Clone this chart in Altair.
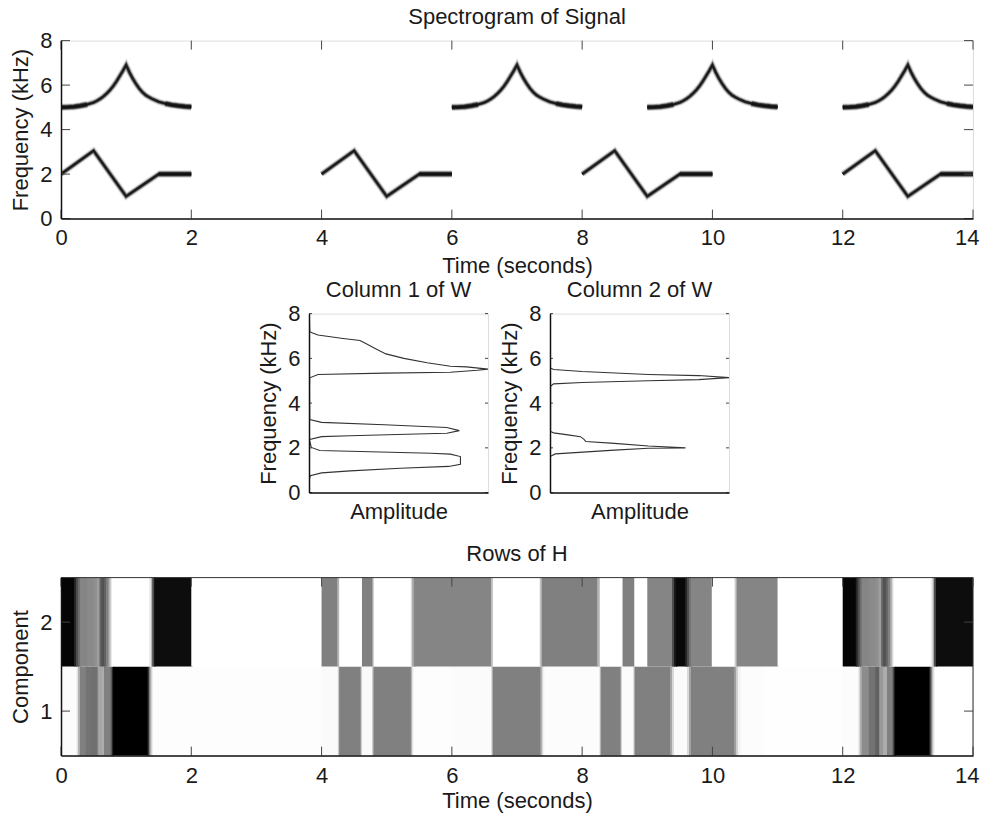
import altair as alt
import pandas as pd

FONT = "Liberation Sans"
INK = "#1a1a1a"
FS = 22

# ---- spectrogram ridges (one read-off note shape, and where each note starts)
upper_t = [0, .1, .2, .3, .4, .5, .55, .6, .65, .7, .75, .8, .85, .9, .95, 1.0, 1.05, 1.1, 1.15, 1.2, 1.25, 1.3, 1.35, 1.4, 1.5, 1.6, 1.7, 1.8, 1.9, 2.0]
upper_f = [5.0, 5.01, 5.03, 5.07, 5.13, 5.22, 5.29, 5.38, 5.49, 5.62, 5.77, 5.95, 6.16, 6.4, 6.64, 6.9, 6.58, 6.3, 6.06, 5.85, 5.68, 5.55, 5.46, 5.38, 5.25, 5.17, 5.11, 5.07, 5.04, 5.02]
lower_t = [0, .5, 1.0, 1.5, 2.0]
lower_f = [2.0, 3.05, 1.0, 2.0, 2.0]
upper_starts = [0, 6, 9, 12]
lower_starts = [0, 4, 8, 12]

# ---- columns of W
w1_amp = [0, .003, .007, .07, .23, .51, .78, .846, .846, .79, .68, .06, .013, .003, .004, .07, .23, .6, .77, .84, .77, .42, .07, .004, .003, .004, .05, .42, .79, .94, 1, .88, .79, .66, .53, .43, .38, .32, .285, .19, .05, .02, .004, .002]
w1_frq = [0, .64, .75, .88, .97, 1.09, 1.17, 1.27, 1.61, 1.72, 1.76, 1.88, 2.02, 2.33, 2.38, 2.5, 2.54, 2.62, 2.65, 2.77, 2.91, 3.03, 3.14, 3.26, 4.68, 5.13, 5.28, 5.34, 5.38, 5.47, 5.52, 5.62, 5.65, 5.8, 6.0, 6.2, 6.4, 6.65, 6.8, 6.89, 7.04, 7.13, 7.19, 8]
w2_amp = [0, 0, .03, .36, .55, .757, .55, .36, .2, .19, .17, .1, .02, .003, .003, .02, .18, .55, .83, 1, .83, .55, .18, .02, .002, .002]
w2_frq = [0, 1.61, 1.73, 1.9, 1.98, 2.0, 2.08, 2.2, 2.28, 2.38, 2.5, 2.58, 2.67, 2.73, 4.75, 4.86, 4.92, 5.0, 5.05, 5.14, 5.23, 5.28, 5.41, 5.5, 5.57, 8]

# ---- rows of H: band edges (seconds) and darkness of the band to the right of each edge
h2_edge = [0, .2, .23, .26, .29, .4, .5, .55, .59, .62, .66, .69, .73, .76, .78, 1.35, 1.38, 1.4, 1.43, 2,
           4, 4.24, 4.27, 4.62, 4.78, 4.8, 5.37, 5.39, 5.42, 6.6, 6.63, 7.35, 7.38, 8.23, 8.27, 8.62, 8.8, 9.0,
           9.38, 9.41, 9.44, 9.58, 9.61, 9.64, 9.67, 9.99, 10.34, 10.37, 11,
           12, 12.2, 12.23, 12.26, 12.29, 12.4, 12.5, 12.55, 12.59, 12.62, 12.66, 12.69, 12.73, 12.76, 12.78, 13.35, 13.38, 13.4, 13.43, 14]
h2_dark = [.98, .85, .7, .58, .48, .46, .44, .38, .6, .68, .62, .5, .3, .1, 0, .08, .3, .7, .95, 0,
           .5, .3, 0, .5, .25, 0, .15, .35, .48, .25, 0, .25, .5, .3, 0, .5, 0, .48,
           .7, .9, .97, .85, .7, .55, .48, 0, .2, .48, 0,
           .98, .85, .7, .58, .48, .46, .44, .38, .6, .68, .62, .5, .3, .1, 0, .08, .3, .7, .95, 0]
h1_edge = [0, .24, .26, .29, .38, .47, .55, .57, .63, .66, .76, .78, .8, 1.33, 1.35, 1.37, 1.39, 1.41,
           4, 4.25, 4.27, 4.6, 4.62, 4.78, 4.8, 5.37, 5.39, 5.41, 6.0, 6.61, 6.63, 7.36, 7.39, 7.42, 8.27, 8.29, 8.59, 8.61, 8.79, 8.81,
           9.35, 9.38, 9.41, 9.61, 9.64, 9.67, 10.33, 10.36, 10.39, 10.43, 10.8,
           12, 12.24, 12.26, 12.29, 12.4, 12.5, 12.56, 12.62, 12.68, 12.76, 12.78, 12.8, 13.33, 13.35, 13.37, 13.39, 13.41, 14]
h1_dark = [.015, .1, .3, .5, .55, .56, .5, .35, .32, .5, .6, .85, 1, .8, .5, .25, .08, .006,
           .02, .2, .5, .2, .02, .3, .5, .3, .08, .006, .015, .3, .5, .3, .05, .012, .3, .5, .2, .01, .3, .5,
           .35, .15, .02, .15, .35, .5, .4, .2, .05, .012, .005,
           .01, .1, .3, .45, .55, .62, .4, .32, .5, .6, .85, 1, .8, .5, .25, .08, 0, 0]

TOP_W, TOP_H = 912, 178
MID = 179


def inner_ticks(x_vals, y_vals, xlen, ylen, x_scale, y_scale):
    layers = []
    if x_vals:
        d = pd.DataFrame({"v": x_vals})
        layers.append(alt.Chart(d).mark_rule(color="#444", strokeWidth=1).encode(
            x=alt.X("v:Q", scale=x_scale), y=alt.value(0), y2=alt.value(xlen)))
        layers.append(alt.Chart(d).mark_rule(color="#444", strokeWidth=1).encode(
            x=alt.X("v:Q", scale=x_scale), y=alt.value(TOP_H - xlen), y2=alt.value(TOP_H)))
    if y_vals:
        d = pd.DataFrame({"v": y_vals})
        w = TOP_W if x_vals else MID
        layers.append(alt.Chart(d).mark_rule(color="#444", strokeWidth=1).encode(
            y=alt.Y("v:Q", scale=y_scale), x=alt.value(0), x2=alt.value(ylen)))
        layers.append(alt.Chart(d).mark_rule(color="#444", strokeWidth=1).encode(
            y=alt.Y("v:Q", scale=y_scale), x=alt.value(w - ylen), x2=alt.value(w)))
    return layers


def ax(title, values=None, labels=True, pad=4, tpad=3, flush=False):
    kw = dict(title=title, grid=False, ticks=False, domain=True, domainColor="#111", domainWidth=1.5,
              labelFontSize=FS, titleFontSize=FS, labelFont=FONT, titleFont=FONT,
              labelColor=INK, titleColor=INK, titleFontWeight="normal", format="d", zindex=1,
              labelPadding=pad, titlePadding=tpad, labels=labels, labelFlush=flush)
    if flush:
        kw["labelFlushOffset"] = 6
    if values is not None:
        kw["values"] = values
    return alt.Axis(**kw)


def ttl(text, off=1):
    return alt.TitleParams(text=text, font=FONT, fontSize=FS, fontWeight="normal", color=INK, offset=off, anchor="middle")


time_ticks = [0, 2, 4, 6, 8, 10, 12, 14]
freq_ticks = [0, 2, 4, 6, 8]
tx = alt.Scale(domain=[0, 14], nice=False)
fy = alt.Scale(domain=[0, 8], nice=False)

# ---- top panel
rows = []
flat_rows = []
for i, s in enumerate(upper_starts):
    for t, f in zip(upper_t, upper_f):
        rows.append({"id": f"u{i}", "t": s + t, "f": f})
        if t <= .4:
            flat_rows.append({"id": f"ua{i}", "t": s + t, "f": f})
        if t >= 1.6:
            flat_rows.append({"id": f"ub{i}", "t": s + t, "f": f})
for i, s in enumerate(lower_starts):
    for t, f in zip(lower_t, lower_f):
        rows.append({"id": f"l{i}", "t": s + t, "f": f})
        if t >= 1.5:
            flat_rows.append({"id": f"lb{i}", "t": s + t, "f": f})
ridge = pd.DataFrame(rows)
flats = pd.DataFrame(flat_rows)


def ridge_layer(w, color, op, data=ridge):
    return alt.Chart(data).mark_line(strokeWidth=w, color=color, opacity=op, strokeJoin="miter", clip=True).encode(
        x=alt.X("t:Q", scale=tx, axis=ax("Time (seconds)", time_ticks, pad=9, tpad=7, flush=True)),
        y=alt.Y("f:Q", scale=fy, axis=ax("Frequency (kHz)", freq_ticks, pad=9, tpad=7.5)),
        detail="id:N", order="t:Q")


top = alt.layer(
    ridge_layer(7, "#000", .05), ridge_layer(5.6, "#000", .12), ridge_layer(4.4, "#000", .22),
    ridge_layer(3.2, "#000", .45), ridge_layer(2, "#111", .85),
    ridge_layer(7.5, "#000", .12, flats), ridge_layer(5.5, "#000", .3, flats), ridge_layer(4, "#111", .5, flats),
    *inner_ticks(time_ticks, freq_ticks, 9, 9, tx, fy)
).properties(width=TOP_W, height=TOP_H, title=ttl("Spectrogram of Signal"))


# ---- middle panels
def w_panel(amp, frq, title):
    d = pd.DataFrame({"a": amp, "f": frq, "k": range(len(amp))})
    ax_x = alt.Scale(domain=[0, 1], nice=False)
    line = alt.Chart(d).mark_line(strokeWidth=1.1, color="#333", clip=True).encode(
        x=alt.X("a:Q", scale=ax_x, axis=ax("Amplitude", [], labels=False, pad=0, tpad=9)),
        y=alt.Y("f:Q", scale=fy, axis=ax("Frequency (kHz)", freq_ticks, pad=9, tpad=7.5)),
        order="k:Q")
    return alt.layer(line, *inner_ticks(None, freq_ticks, 0, 3, ax_x, fy)).properties(
        width=MID, height=MID, title=ttl(title, 1))


spacer = alt.Chart(pd.DataFrame({"a": [0]})).mark_point(opacity=0).encode(
    x=alt.X("a:Q", axis=None), y=alt.Y("a:Q", axis=None)
).properties(width=195, height=MID, view=alt.ViewConfig(stroke=None))

mid = alt.hconcat(spacer, alt.hconcat(w_panel(w1_amp, w1_frq, "Column 1 of W"),
                                      w_panel(w2_amp, w2_frq, "Column 2 of W"), spacing=8), spacing=0)


# ---- bottom panel
def bands(edge, dark, comp):
    # each band runs slightly under the next one, so no seam shows between them
    return [{"x0": a, "x1": (b + .02 if b < 14 else b), "y0": comp - .5, "y1": comp + .5, "dark": v}
            for a, b, v in zip(edge[:-1], edge[1:], dark)]


cells = pd.DataFrame(bands(h1_edge, h1_dark, 1) + bands(h2_edge, h2_dark, 2))
cy = alt.Scale(domain=[.5, 2.5], nice=False)
gray = alt.Scale(domain=[0, 1], range=["#ffffff", "#000000"], interpolate="rgb")
heat = alt.Chart(cells).mark_rect().encode(
    x=alt.X("x0:Q", scale=tx, axis=ax("Time (seconds)", time_ticks, pad=10, tpad=4, flush=True)),
    x2="x1:Q",
    y=alt.Y("y0:Q", scale=cy, axis=ax("Component", [1, 2], pad=9, tpad=7.5)),
    y2="y1:Q",
    fill=alt.Fill("dark:Q", scale=gray, legend=None))
edges = pd.DataFrame({"k": [0]})
frame_top = alt.Chart(edges).mark_rule(color="#333", strokeWidth=1).encode(
    x=alt.value(0), x2=alt.value(TOP_W), y=alt.value(0))
frame_right = alt.Chart(edges).mark_rule(color="#333", strokeWidth=1).encode(
    x=alt.value(TOP_W), y=alt.value(0), y2=alt.value(TOP_H))
bottom = alt.layer(heat, *inner_ticks(time_ticks, [1, 2], 9, 9, tx, cy), frame_top, frame_right).properties(
    width=TOP_W, height=TOP_H, title=ttl("Rows of H", 11))

chart = alt.vconcat(top, alt.vconcat(mid, bottom, spacing=19), spacing=0).properties(
    padding={"left": 0, "top": -3.4, "right": 0, "bottom": 0}
).configure_view(stroke="#444", strokeWidth=1).configure(background="white")

chart.save("out.html", embed_options={"renderer": "svg", "actions": False})
